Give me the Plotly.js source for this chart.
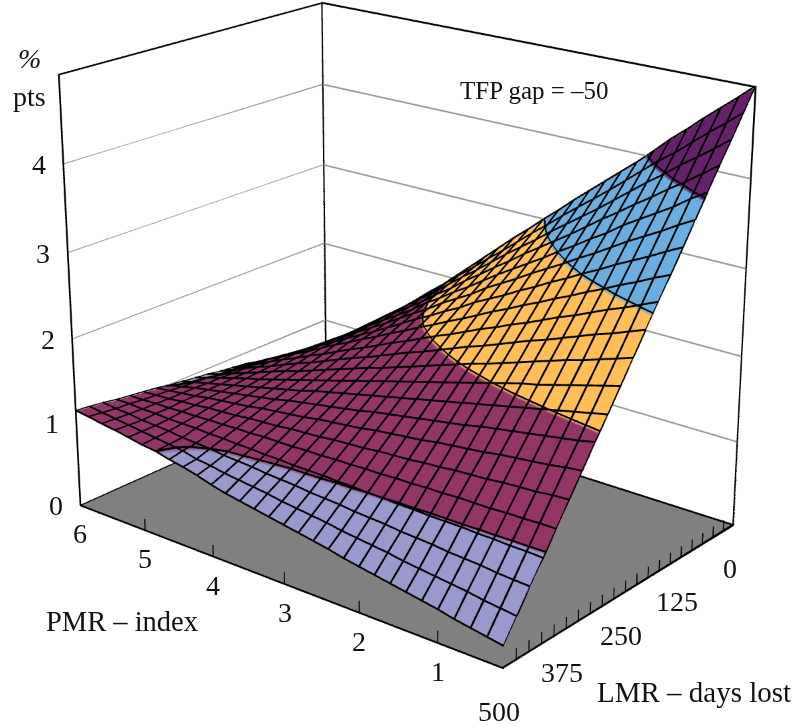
<!DOCTYPE html>
<html><head><meta charset="utf-8">
<script src="https://cdn.plot.ly/plotly-3.0.1.min.js"></script>
<style>html,body{margin:0;padding:0;width:795px;height:727px;overflow:hidden;background:#fff}
#wrap{position:absolute;left:0;top:0;width:795px;height:727px;overflow:hidden}
#g{position:absolute}</style></head>
<body><div id="wrap"><div id="g"></div></div>
<script>
const pmr=[0.2,0.4,0.6,0.8,1,1.2,1.4,1.6,1.8,2,2.2,2.4,2.6,2.8,3,3.2,3.4,3.6,3.8,4,4.2,4.4,4.6,4.8,5,5.2,5.4,5.6,5.8,6];
const lmr=[0,25,50,75,100,125,150,175,200,225,250,275,300,325,350,375,400,425,450,475,500];
const gap=[
[5.00,4.84,4.69,4.54,4.38,4.23,4.06,3.90,3.75,3.60,3.45,3.30,3.14,2.99,2.83,2.68,2.52,2.36,2.20,2.04,1.88,1.74,1.59,1.44,1.29,1.14,1.00,0.86,0.72,0.57],
[4.76,4.61,4.47,4.32,4.17,4.04,3.89,3.74,3.59,3.45,3.31,3.17,3.02,2.88,2.73,2.58,2.44,2.29,2.15,2.00,1.85,1.71,1.57,1.43,1.29,1.15,1.02,0.88,0.75,0.61],
[4.52,4.38,4.25,4.12,3.98,3.85,3.71,3.57,3.43,3.30,3.17,3.04,2.90,2.77,2.64,2.50,2.36,2.23,2.09,1.95,1.82,1.69,1.56,1.43,1.30,1.17,1.04,0.91,0.79,0.66],
[4.29,4.16,4.03,3.91,3.78,3.66,3.53,3.41,3.28,3.15,3.03,2.91,2.79,2.66,2.54,2.41,2.29,2.15,2.03,1.90,1.78,1.66,1.54,1.42,1.29,1.17,1.05,0.93,0.82,0.70],
[4.05,3.94,3.81,3.70,3.59,3.48,3.35,3.24,3.12,3.01,2.89,2.78,2.67,2.56,2.44,2.32,2.21,2.09,1.98,1.85,1.74,1.63,1.52,1.40,1.29,1.18,1.07,0.95,0.85,0.74],
[3.81,3.71,3.60,3.50,3.40,3.29,3.18,3.08,2.97,2.87,2.77,2.66,2.56,2.46,2.34,2.24,2.14,2.02,1.92,1.81,1.70,1.60,1.50,1.39,1.29,1.19,1.08,0.98,0.89,0.78],
[3.57,3.48,3.38,3.29,3.20,3.10,3.01,2.91,2.82,2.72,2.63,2.53,2.44,2.35,2.24,2.15,2.05,1.96,1.86,1.76,1.66,1.57,1.48,1.38,1.29,1.19,1.10,1.00,0.91,0.82],
[3.33,3.25,3.16,3.08,2.99,2.91,2.82,2.74,2.65,2.57,2.48,2.40,2.31,2.22,2.14,2.05,1.97,1.88,1.80,1.71,1.63,1.54,1.46,1.37,1.28,1.20,1.11,1.03,0.94,0.86],
[3.10,3.02,2.94,2.87,2.79,2.71,2.64,2.56,2.48,2.41,2.33,2.26,2.18,2.10,2.03,1.95,1.87,1.80,1.72,1.64,1.57,1.49,1.41,1.34,1.26,1.19,1.11,1.03,0.96,0.88],
[2.86,2.79,2.72,2.66,2.59,2.52,2.45,2.39,2.32,2.25,2.18,2.12,2.05,1.98,1.91,1.85,1.78,1.71,1.64,1.58,1.51,1.44,1.37,1.31,1.24,1.17,1.11,1.04,0.97,0.90],
[2.62,2.56,2.50,2.44,2.39,2.33,2.27,2.21,2.15,2.09,2.04,1.98,1.92,1.86,1.80,1.74,1.68,1.63,1.57,1.51,1.45,1.39,1.33,1.28,1.22,1.16,1.10,1.04,0.98,0.93],
[2.38,2.33,2.28,2.23,2.18,2.13,2.09,2.04,1.99,1.94,1.89,1.84,1.79,1.74,1.69,1.64,1.59,1.54,1.49,1.44,1.39,1.34,1.29,1.24,1.19,1.15,1.10,1.05,1.00,0.95],
[2.14,2.10,2.06,2.02,1.98,1.94,1.90,1.86,1.82,1.78,1.74,1.70,1.66,1.62,1.58,1.54,1.50,1.46,1.42,1.38,1.33,1.29,1.25,1.21,1.17,1.13,1.09,1.05,1.01,0.97],
[1.91,1.87,1.84,1.81,1.78,1.75,1.72,1.69,1.65,1.62,1.59,1.56,1.53,1.50,1.47,1.43,1.40,1.37,1.34,1.31,1.28,1.24,1.21,1.18,1.15,1.12,1.09,1.06,1.02,0.99],
[1.67,1.65,1.62,1.60,1.58,1.56,1.53,1.51,1.49,1.47,1.44,1.42,1.40,1.38,1.35,1.33,1.31,1.29,1.26,1.24,1.22,1.20,1.17,1.15,1.13,1.11,1.08,1.06,1.04,1.02],
[1.43,1.42,1.40,1.39,1.38,1.36,1.35,1.34,1.32,1.31,1.29,1.28,1.27,1.25,1.24,1.23,1.21,1.20,1.19,1.17,1.16,1.15,1.13,1.12,1.11,1.09,1.08,1.06,1.05,1.04],
[1.19,1.19,1.18,1.18,1.17,1.17,1.17,1.16,1.16,1.15,1.15,1.14,1.14,1.13,1.13,1.12,1.12,1.11,1.11,1.11,1.10,1.10,1.09,1.09,1.08,1.08,1.07,1.07,1.06,1.06],
[0.95,0.96,0.96,0.97,0.97,0.98,0.98,0.98,0.99,0.99,1.00,1.00,1.01,1.01,1.02,1.02,1.02,1.03,1.03,1.04,1.04,1.05,1.05,1.06,1.06,1.06,1.07,1.07,1.08,1.08],
[0.72,0.73,0.74,0.76,0.77,0.78,0.80,0.81,0.82,0.84,0.85,0.86,0.88,0.89,0.90,0.92,0.93,0.94,0.96,0.97,0.98,1.00,1.01,1.02,1.04,1.05,1.06,1.08,1.09,1.11],
[0.48,0.50,0.52,0.55,0.57,0.59,0.61,0.63,0.66,0.68,0.70,0.72,0.75,0.77,0.79,0.81,0.84,0.86,0.88,0.90,0.93,0.95,0.99,1.01,1.03,1.05,1.07,1.09,1.11,1.13],
[0.24,0.27,0.30,0.33,0.37,0.40,0.43,0.46,0.49,0.52,0.55,0.59,0.62,0.65,0.68,0.71,0.74,0.77,0.80,0.84,0.89,0.93,0.96,1.00,1.02,1.05,1.08,1.10,1.13,1.15]];
const pmrTicks=[1,2,3,4,5,6];
const lmrLabels=[0,125,250,375,500];
const lmrMinor=[25,50,75,100,125,150,175,200,225,250,275,300,325,350,375,400,425,450,475];
const zTicks=[0,1,2,3,4];
const zGrid=[1,2,3,4];
const bandEdges=[1,2,3,4];
const colours=['#9999CC','#943567','#FFBF56','#6AAEDF','#65216B'];

const W=2226, H=2036, cx=404, cy=305;
const el=document.getElementById('g');
el.style.width=W+'px';el.style.height=H+'px';el.style.left=(cx-W/2)+'px';el.style.top=(cy-H/2)+'px';
const offX=W/2-cx, offY=H/2-cy;
const px=(x,y)=>({x:(x+offX)/W,y:1-(y+offY)/H});

const cs=[];colours.forEach((c,i)=>{cs.push([i/5,c]);cs.push([(i+1)/5,c]);});
const surf={type:'surface',x:pmr,y:lmr,z:gap,cmin:0,cmax:5,colorscale:cs,showscale:false,hoverinfo:'skip',
 lighting:{ambient:1,diffuse:0,specular:0,roughness:1,fresnel:0}};

const DX=0.0054,DY=0.68,DZ=0.0051; // half a screen pixel in data units
const line=(x,y,z,col)=>({type:'scatter3d',mode:'lines',x:x,y:y,z:z,line:{color:col||'#000',width:2},hoverinfo:'skip',showlegend:false});
const shift=(a,d)=>a.map(v=>v===null?null:v+d);
const traces=[surf];
const px1=[],py1=[],pz1=[],lx1=[],ly1=[],lz1=[];
gap.forEach((row,j)=>{row.forEach((v,i)=>{px1.push(pmr[i]);py1.push(lmr[j]);pz1.push(v);});px1.push(null);py1.push(null);pz1.push(null);});
pmr.forEach((p,i)=>{lmr.forEach((l,j)=>{lx1.push(p);ly1.push(l);lz1.push(gap[j][i]);});lx1.push(null);ly1.push(null);lz1.push(null);});
[-1,0,1].forEach(c=>{
 traces.push(line(px1,py1,shift(pz1,0.012+c*DZ)));
 traces.push(line(shift(lx1,c*DX),ly1,shift(lz1,0.012)));
});
// band boundaries traced across the table cells
const cxs=[],cys=[],czs=[];
bandEdges.forEach(lv=>{
 for(let j=0;j<lmr.length-1;j++)for(let i=0;i<pmr.length-1;i++){
  const a=gap[j][i],b=gap[j][i+1],c=gap[j+1][i+1],d=gap[j+1][i],pts=[];
  const cross=(v1,v2,x1,y1,x2,y2)=>{if((v1<lv)!==(v2<lv)){const t=(lv-v1)/(v2-v1);pts.push([x1+t*(x2-x1),y1+t*(y2-y1)]);}};
  cross(a,b,pmr[i],lmr[j],pmr[i+1],lmr[j]);cross(b,c,pmr[i+1],lmr[j],pmr[i+1],lmr[j+1]);
  cross(c,d,pmr[i+1],lmr[j+1],pmr[i],lmr[j+1]);cross(d,a,pmr[i],lmr[j+1],pmr[i],lmr[j]);
  if(pts.length>=2){cxs.push(pts[0][0],pts[1][0],null);cys.push(pts[0][1],pts[1][1],null);czs.push(lv,lv,null);}
 }
});
[-1,0,1].forEach(c=>{traces.push(line(shift(cxs,c*DX),cys,shift(czs,0.012+c*DZ)));});

const x0=0.2,x1=6,y0=0,y1=500,z0=0,z1=5,nil=null;
const bx=[x1,x0,x0,x1,x1,nil,x1,x1,x1,nil,x0,x0,x1,x1,x1,nil];
const by=[y1,y1,y0,y0,y1,nil,y1,y1,y0,nil,y0,y0,y0,y0,y0,nil];
const bz=[z0,z0,z0,z0,z0,nil,z0,z1,z1,nil,z0,z1,z1,z0,z1,nil];
// wall grid lines
const gx=[],gy=[],gz=[];
zGrid.forEach(z=>{gx.push(x1,x1,x0,null);gy.push(y1,y0,y0,null);gz.push(z,z,z,null);});
[0,0.7,1.4].forEach(c=>{traces.push(line(gx,gy,shift(gz,c*DZ),'#999'));});
[0,1,2].forEach(c=>{
 traces.push(line(bx.map(v=>v===null?null:(v===x1?v-c*DX:v+c*DX)),by,bz.map(v=>v===null?null:(v===z1?v-c*DZ:v+0.002+c*DZ))));
});
const tx=[],ty=[],tz=[];
pmrTicks.slice(0,5).forEach(p=>{tx.push(p,p,null);ty.push(y1,y1,null);tz.push(0,0.14,null);});
lmrMinor.forEach(l=>{tx.push(x0,x0,null);ty.push(l,l,null);tz.push(0,0.14,null);});
[0,1].forEach(c=>{traces.push(line(shift(tx,c*DX),shift(ty,-c*DY),tz));});

const fam='"Liberation Serif","Times New Roman",serif';
const tick=(x,y,z,t,xs,ys)=>({x:x,y:y,z:z,text:String(t),showarrow:false,xshift:xs,yshift:ys,xanchor:'center',yanchor:'middle',font:{family:fam,size:28,color:'#111'}});
const sceneNotes=[];
pmrTicks.forEach(p=>sceneNotes.push(tick(p,y1,0,p,0,-28)));
lmrLabels.forEach(l=>sceneNotes.push(tick(x0,l,0,l,-4,-43)));
zTicks.forEach(z=>sceneNotes.push(tick(x1,y1,z,z,-24,0)));

const ax=(range,extra)=>Object.assign({range:range,showticklabels:false,showgrid:false,zeroline:false,showline:false,
 ticks:'',showspikes:false,title:{text:''},showbackground:false},extra||{});
const note=(t,x,y,s,anchor)=>{const p=px(x,y);return {xref:'paper',yref:'paper',x:p.x,y:p.y,text:t,showarrow:false,xanchor:anchor||'left',yanchor:'middle',font:{family:fam,size:s,color:'#111'}};};
const layout={width:W,height:H,margin:{l:0,r:0,t:0,b:0},paper_bgcolor:'#fff',showlegend:false,hovermode:false,
 scene:{domain:{x:[0,1],y:[0,1]},aspectmode:'manual',aspectratio:{x:1.09,y:0.77,z:0.915},annotations:sceneNotes,
  camera:{eye:{x:-2.88,y:3.52,z:1.68},center:{x:0,y:0,z:0},up:{x:0,y:0,z:1},projection:{type:'perspective'}},
  xaxis:ax([x0,x1]),yaxis:ax([y0,y1]),
  zaxis:ax([z0,z1],{showbackground:true,backgroundcolor:'#808080'})},
 annotations:[note('<i>%</i>',29,58,28,'center'),note('pts',29,96,28,'center'),note('TFP gap = –50',458,90,25),note('PMR – index',44,621,28.5),note('LMR – days lost',595,692,29)]};
Plotly.newPlot(el,traces,layout,{displayModeBar:false,plotGlPixelRatio:1.5});
</script></body></html>
